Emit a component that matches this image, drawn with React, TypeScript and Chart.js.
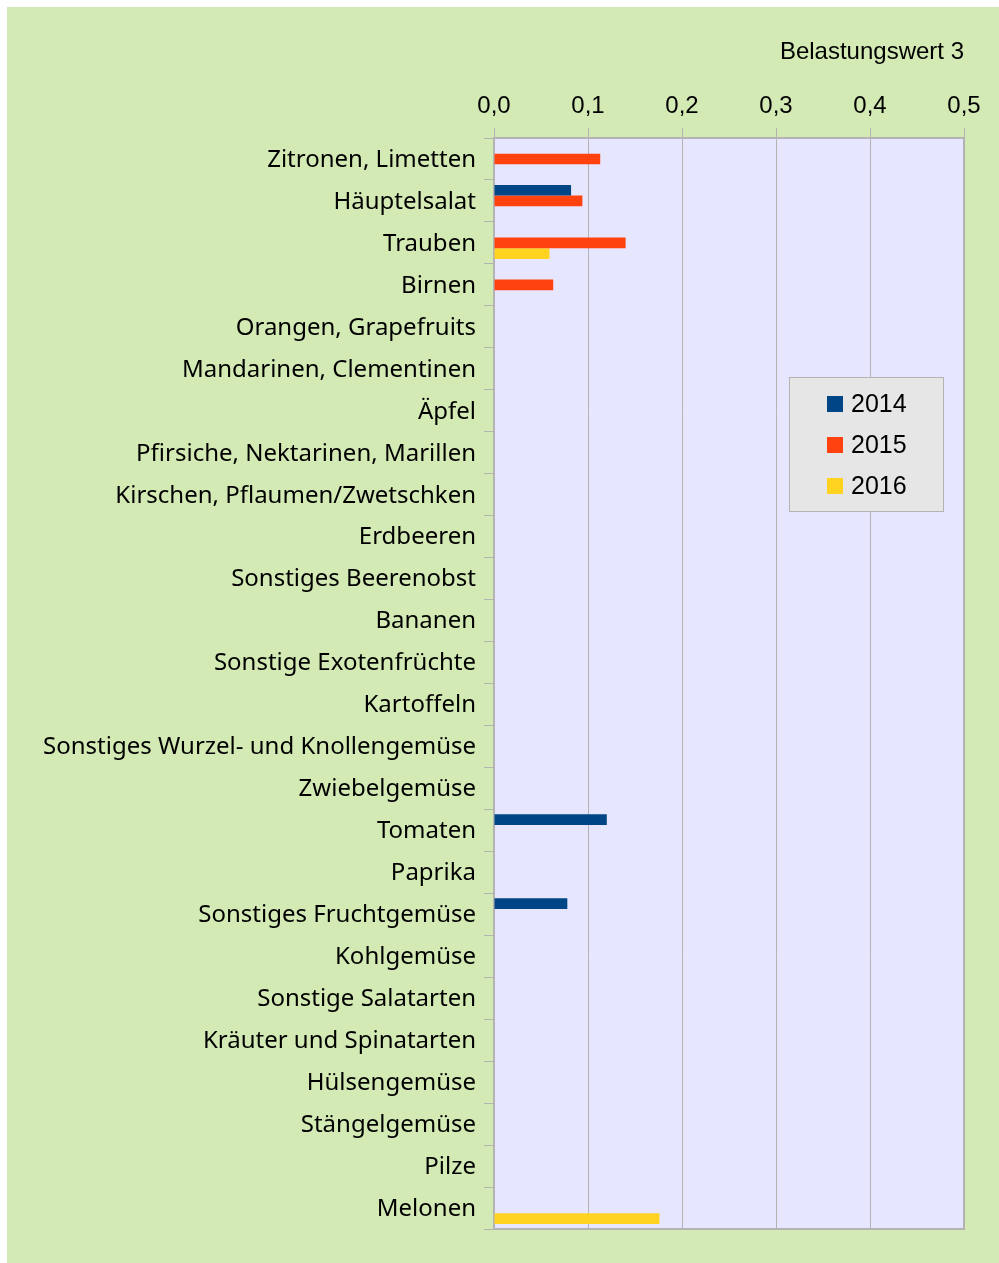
import React, { useEffect, useRef } from "react";
import { Chart, registerables } from "chart.js";

Chart.register(...registerables);

const categories = [
  "Zitronen, Limetten",
  "Häuptelsalat",
  "Trauben",
  "Birnen",
  "Orangen, Grapefruits",
  "Mandarinen, Clementinen",
  "Äpfel",
  "Pfirsiche, Nektarinen, Marillen",
  "Kirschen, Pflaumen/Zwetschken",
  "Erdbeeren",
  "Sonstiges Beerenobst",
  "Bananen",
  "Sonstige Exotenfrüchte",
  "Kartoffeln",
  "Sonstiges Wurzel- und Knollengemüse",
  "Zwiebelgemüse",
  "Tomaten",
  "Paprika",
  "Sonstiges Fruchtgemüse",
  "Kohlgemüse",
  "Sonstige Salatarten",
  "Kräuter und Spinatarten",
  "Hülsengemüse",
  "Stängelgemüse",
  "Pilze",
  "Melonen",
];

const values2014 = [null, 0.082, null, null, null, null, null, null, null, null, null, null, null, null, null, null, 0.12, null, 0.078, null, null, null, null, null, null, null];
const values2015 = [0.113, 0.094, 0.14, 0.063, null, null, null, null, null, null, null, null, null, null, null, null, null, null, null, null, null, null, null, null, null, null];
const values2016 = [null, null, 0.059, null, null, null, null, null, null, null, null, null, null, null, null, null, null, null, null, null, null, null, null, null, null, 0.176];

const seriesLabels = ["2014", "2015", "2016"];
const seriesColors = ["#004586", "#ff420e", "#ffd320"];

const axisTitle = "Belastungswert 3";
const xMin = 0;
const xMax = 0.5;
const xStep = 0.1;

const GRID = "#b3b3b3";

const plotPlugin = {
  id: "plotDeco",
  beforeDatasetsDraw(chart: any) {
    const { ctx, chartArea: a } = chart;
    ctx.save();
    ctx.globalCompositeOperation = "destination-over";
    ctx.fillStyle = "#e6e6ff";
    ctx.fillRect(a.left, a.top, a.right - a.left, a.bottom - a.top);
    ctx.restore();
  },
  afterDatasetsDraw(chart: any) {
    const { ctx, chartArea: a } = chart;
    ctx.save();
    ctx.strokeStyle = GRID;
    ctx.lineWidth = 2;
    ctx.beginPath();
    ctx.moveTo(a.right, a.top);
    ctx.lineTo(a.right, a.bottom);
    ctx.lineTo(a.left, a.bottom);
    ctx.stroke();
    ctx.restore();
  },
  afterDraw(chart: any) {
    const { ctx, chartArea: a } = chart;
    const boxW = 154;
    const boxH = 134;
    const bx = a.right - 175;
    const by = a.top + 239;
    ctx.save();
    ctx.fillStyle = "#e6e6e6";
    ctx.fillRect(bx, by, boxW, boxH);
    ctx.strokeStyle = GRID;
    ctx.lineWidth = 1;
    ctx.strokeRect(bx + 0.5, by + 0.5, boxW, boxH);
    ctx.font = "25px 'Liberation Sans', Arial, sans-serif";
    ctx.textBaseline = "middle";
    ctx.textAlign = "left";
    chart.data.datasets.forEach((ds: any, i: number) => {
      const cy = by + 27 + i * 41;
      ctx.fillStyle = ds.backgroundColor;
      ctx.fillRect(bx + 38, cy - 8, 16, 16);
      ctx.fillStyle = "#000";
      ctx.fillText(ds.label, bx + 62, cy + 1);
    });
    ctx.restore();
  },
};

export default function App() {
  const ref = useRef<HTMLCanvasElement | null>(null);

  useEffect(() => {
    if (!ref.current) return;
    const series = [values2014, values2015, values2016];
    const chart = new Chart(ref.current, {
      type: "bar",
      data: {
        labels: categories,
        datasets: series.map((vals, i) => ({
          label: seriesLabels[i],
          data: vals,
          backgroundColor: seriesColors[i],
          borderWidth: 0,
          barPercentage: 1,
          categoryPercentage: 0.763,
        })),
      },
      options: {
        indexAxis: "y",
        animation: false,
        responsive: false,
        maintainAspectRatio: false,
        layout: { padding: { left: 0, right: 35, top: 0, bottom: 34 } },
        plugins: {
          legend: { display: false },
          tooltip: { enabled: false },
          title: { display: false },
        },
        scales: {
          x: {
            position: "top",
            min: xMin,
            max: xMax,
            afterFit(scale: any) {
              scale.height = 138;
            },
            ticks: {
              stepSize: xStep,
              color: "#000",
              padding: 7,
              font: { family: "'Liberation Sans', Arial, sans-serif", size: 24 },
              callback: (v: any) => Number(v).toFixed(1).replace(".", ","),
              maxRotation: 0,
            },
            grid: {
              color: GRID,
              lineWidth: 1,
              tickLength: 10,
              drawTicks: true,
            },
            border: { color: GRID, width: 2 },
            title: {
              display: true,
              text: axisTitle,
              align: "end",
              color: "#000",
              font: { family: "'Liberation Sans', Arial, sans-serif", size: 24 },
              padding: { top: 38, bottom: 0 },
            },
          },
          y: {
            afterFit(scale: any) {
              scale.width = 494;
            },
            ticks: {
              color: "#000",
              padding: 8,
              autoSkip: false,
              labelOffset: 1,
              font: { family: "'Noto Sans', sans-serif", size: 24 },
            },
            grid: {
              drawOnChartArea: false,
              color: GRID,
              lineWidth: 1,
              tickLength: 10,
              offset: true,
            },
            border: { color: GRID, width: 2 },
          },
        },
      },
      plugins: [plotPlugin],
    });
    return () => chart.destroy();
  }, []);

  return (
    <div style={{ position: "absolute", left: 0, top: 0, width: 999, height: 1263, background: "#ffffff", overflow: "hidden" }}>
      <div style={{ position: "absolute", left: 7, top: 7, width: 992, height: 1256, background: "#d4eab4" }} />
      <canvas ref={ref} width={999} height={1263} style={{ position: "absolute", left: 0, top: 0, width: 999, height: 1263 }} />
    </div>
  );
}
